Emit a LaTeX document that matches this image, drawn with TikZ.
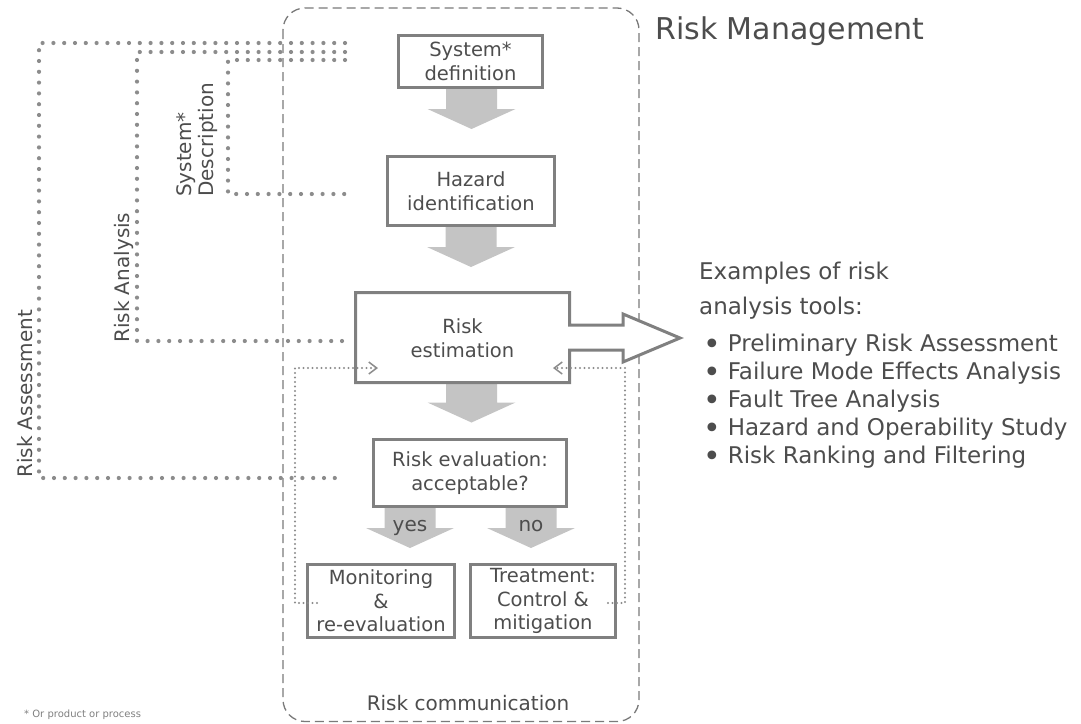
\documentclass[tikz,border=0pt]{standalone}
\usepackage{fontspec}
\setmainfont{DejaVu Sans}
\usetikzlibrary{arrows.meta,calc}
\definecolor{txt}{HTML}{4D4D4D}
\definecolor{boxc}{HTML}{808080}
\definecolor{arrc}{HTML}{C4C4C4}
\definecolor{dotc}{HTML}{8C8C8C}
\definecolor{frc}{HTML}{7A7A7A}
\definecolor{notec}{HTML}{808080}
\newcommand\grayarrow[1]{%
  \fill[arrc] let \p1=#1 in
    (\x1-25.5pt,\y1) -- (\x1+25.5pt,\y1) -- (\x1+25.5pt,\y1-20pt) -- (\x1+44pt,\y1-20pt)
    -- (\x1,\y1-40pt) -- (\x1-44pt,\y1-20pt) -- (\x1-25.5pt,\y1-20pt) -- cycle;}
\newcommand\bul{\raisebox{-3pt}{\scalebox{1.3}{\textbullet}}\hspace{7pt}}
\begin{document}
\begin{tikzpicture}[x=1pt,y=-1pt,
  box/.style={draw=boxc, line width=3pt, text=txt, font=\fontsize{19.5}{23.5}\selectfont, align=center, inner sep=0pt},
  lbl/.style={text=txt, font=\fontsize{20}{22}\selectfont, inner sep=0pt},
  ex/.style={text=txt, font=\fontsize{23}{28}\selectfont, inner sep=0pt},
  bigdots/.style={draw=dotc, line width=4.2pt, line cap=round, dash pattern=on 0pt off 10.8pt},
  smalldots/.style={draw=dotc, line width=2.4pt, line cap=round, dash pattern=on 0pt off 4.5pt},
  framebox/.style={draw=frc, line width=1.3pt, dash pattern=on 9pt off 5pt, rounded corners=22pt},
  tip/.style={-{Straight Barb[length=8pt,width=12pt,line width=1.5pt]}}]
\useasboundingbox (0,0) rectangle (1081,723);
\fill[white] (0,0) rectangle (1081,723);

% risk management frame
\draw[framebox] (283,8) rectangle (639,721.5);
\node[text=txt, font=\fontsize{30}{34}\selectfont, inner sep=0pt, anchor=base west] (title) at (655,39) {Risk Management};

% left brackets
\coordinate (ra1) at (345,43); \coordinate (ra2) at (39,43);
\coordinate (ra3) at (39,478); \coordinate (ra4) at (345,478);
\draw[bigdots] (ra1) -- (ra2) -- (ra3) -- (ra4);
\coordinate (rn1) at (345,52); \coordinate (rn2) at (137,52);
\coordinate (rn3) at (137,341); \coordinate (rn4) at (345,341);
\draw[bigdots] (rn1) -- (rn2) -- (rn3) -- (rn4);
\coordinate (sd1) at (345,60); \coordinate (sd2) at (228,60);
\coordinate (sd3) at (228,194); \coordinate (sd4) at (345,194);
\draw[bigdots] (sd1) -- (sd2) -- (sd3) -- (sd4);

\node[lbl, rotate=90, anchor=base west] (lassess) at (32,478) {Risk Assessment};
\node[lbl, rotate=90, anchor=base west] (lanal) at (129,343) {Risk Analysis};
\node[lbl, rotate=90, anchor=south west, align=left] (ldesc) at (218,197) {System*\\Description};

% boxes
\node[box, minimum width=144pt, minimum height=52pt] (sys) at (470.5,61.5) {System*\\definition};
\node[box, minimum width=167pt, minimum height=69pt] (haz) at (471,191) {Hazard\\identification};
\node[box, draw=none, outer sep=0pt, minimum width=214pt, minimum height=90pt] (est) at (462.5,337.5) {};
\node[box, minimum width=193pt, minimum height=67pt] (eval) at (470,473) {Risk evaluation:\\acceptable?};
\node[box, minimum width=147pt, minimum height=73pt] (mon) at (381,601) {Monitoring\\\&\\re-evaluation};
\node[box, minimum width=145pt, minimum height=73pt] (treat) at (543,601) {Treatment:\\Control \&\\mitigation};

% gray arrows
\grayarrow{([xshift=1pt]sys.south)}
\grayarrow{(haz.south)}
\grayarrow{([xshift=9pt]est.south)}
\grayarrow{([xshift=-60pt]eval.south)}
\grayarrow{([xshift=61pt]eval.south)}
\node[lbl, anchor=base] (yes) at (410,531) {yes};
\node[lbl, anchor=base] (no) at (531,531) {no};

% risk estimation box with outgoing arrow
\coordinate (ea1) at (623,325); \coordinate (ea2) at (623,314);
\coordinate (ea3) at (680,338); \coordinate (ea4) at (623,362);
\coordinate (ea5) at (623,350);
\draw[boxc, line width=3pt, fill=white] (est.north west) -- (est.north east) |- (ea1) -- (ea2) -- (ea3) -- (ea4) -- (ea5) -| (est.south east) -- (est.south west) -- cycle;
\node[box, draw=none] (esttext) at (462.5,338) {Risk\\estimation};

% feedback loops
\coordinate (lm1) at (317,603); \coordinate (lm2) at (295,603);
\coordinate (lm3) at (295,368); \coordinate (lm4) at (378,368);
\draw[smalldots, tip] (lm1) -- (lm2) -- (lm3) -- (lm4);
\coordinate (rt1) at (608,603); \coordinate (rt2) at (625,603);
\coordinate (rt3) at (625,368); \coordinate (rt4) at (553,368);
\draw[smalldots, tip] (rt1) -- (rt2) -- (rt3) -- (rt4);

\node[lbl, anchor=base] (comm) at (468,710) {Risk communication};

% examples
\node[ex, anchor=base west] (exh1) at (699,279) {Examples of risk};
\node[ex, anchor=base west] (exh2) at (699,314) {analysis tools:};
\node[ex, anchor=base west] (ex1) at (703,351) {\bul Preliminary Risk Assessment};
\node[ex, anchor=base west] (ex2) at (703,379) {\bul Failure Mode Effects Analysis};
\node[ex, anchor=base west] (ex3) at (703,407) {\bul Fault Tree Analysis};
\node[ex, anchor=base west] (ex4) at (703,435) {\bul Hazard and Operability Study};
\node[ex, anchor=base west] (ex5) at (703,463) {\bul Risk Ranking and Filtering};

\node[text=notec, font=\fontsize{10}{11}\selectfont, inner sep=0pt, anchor=base west] (note) at (24,717) {* Or product or process};
\end{tikzpicture}
\end{document}
